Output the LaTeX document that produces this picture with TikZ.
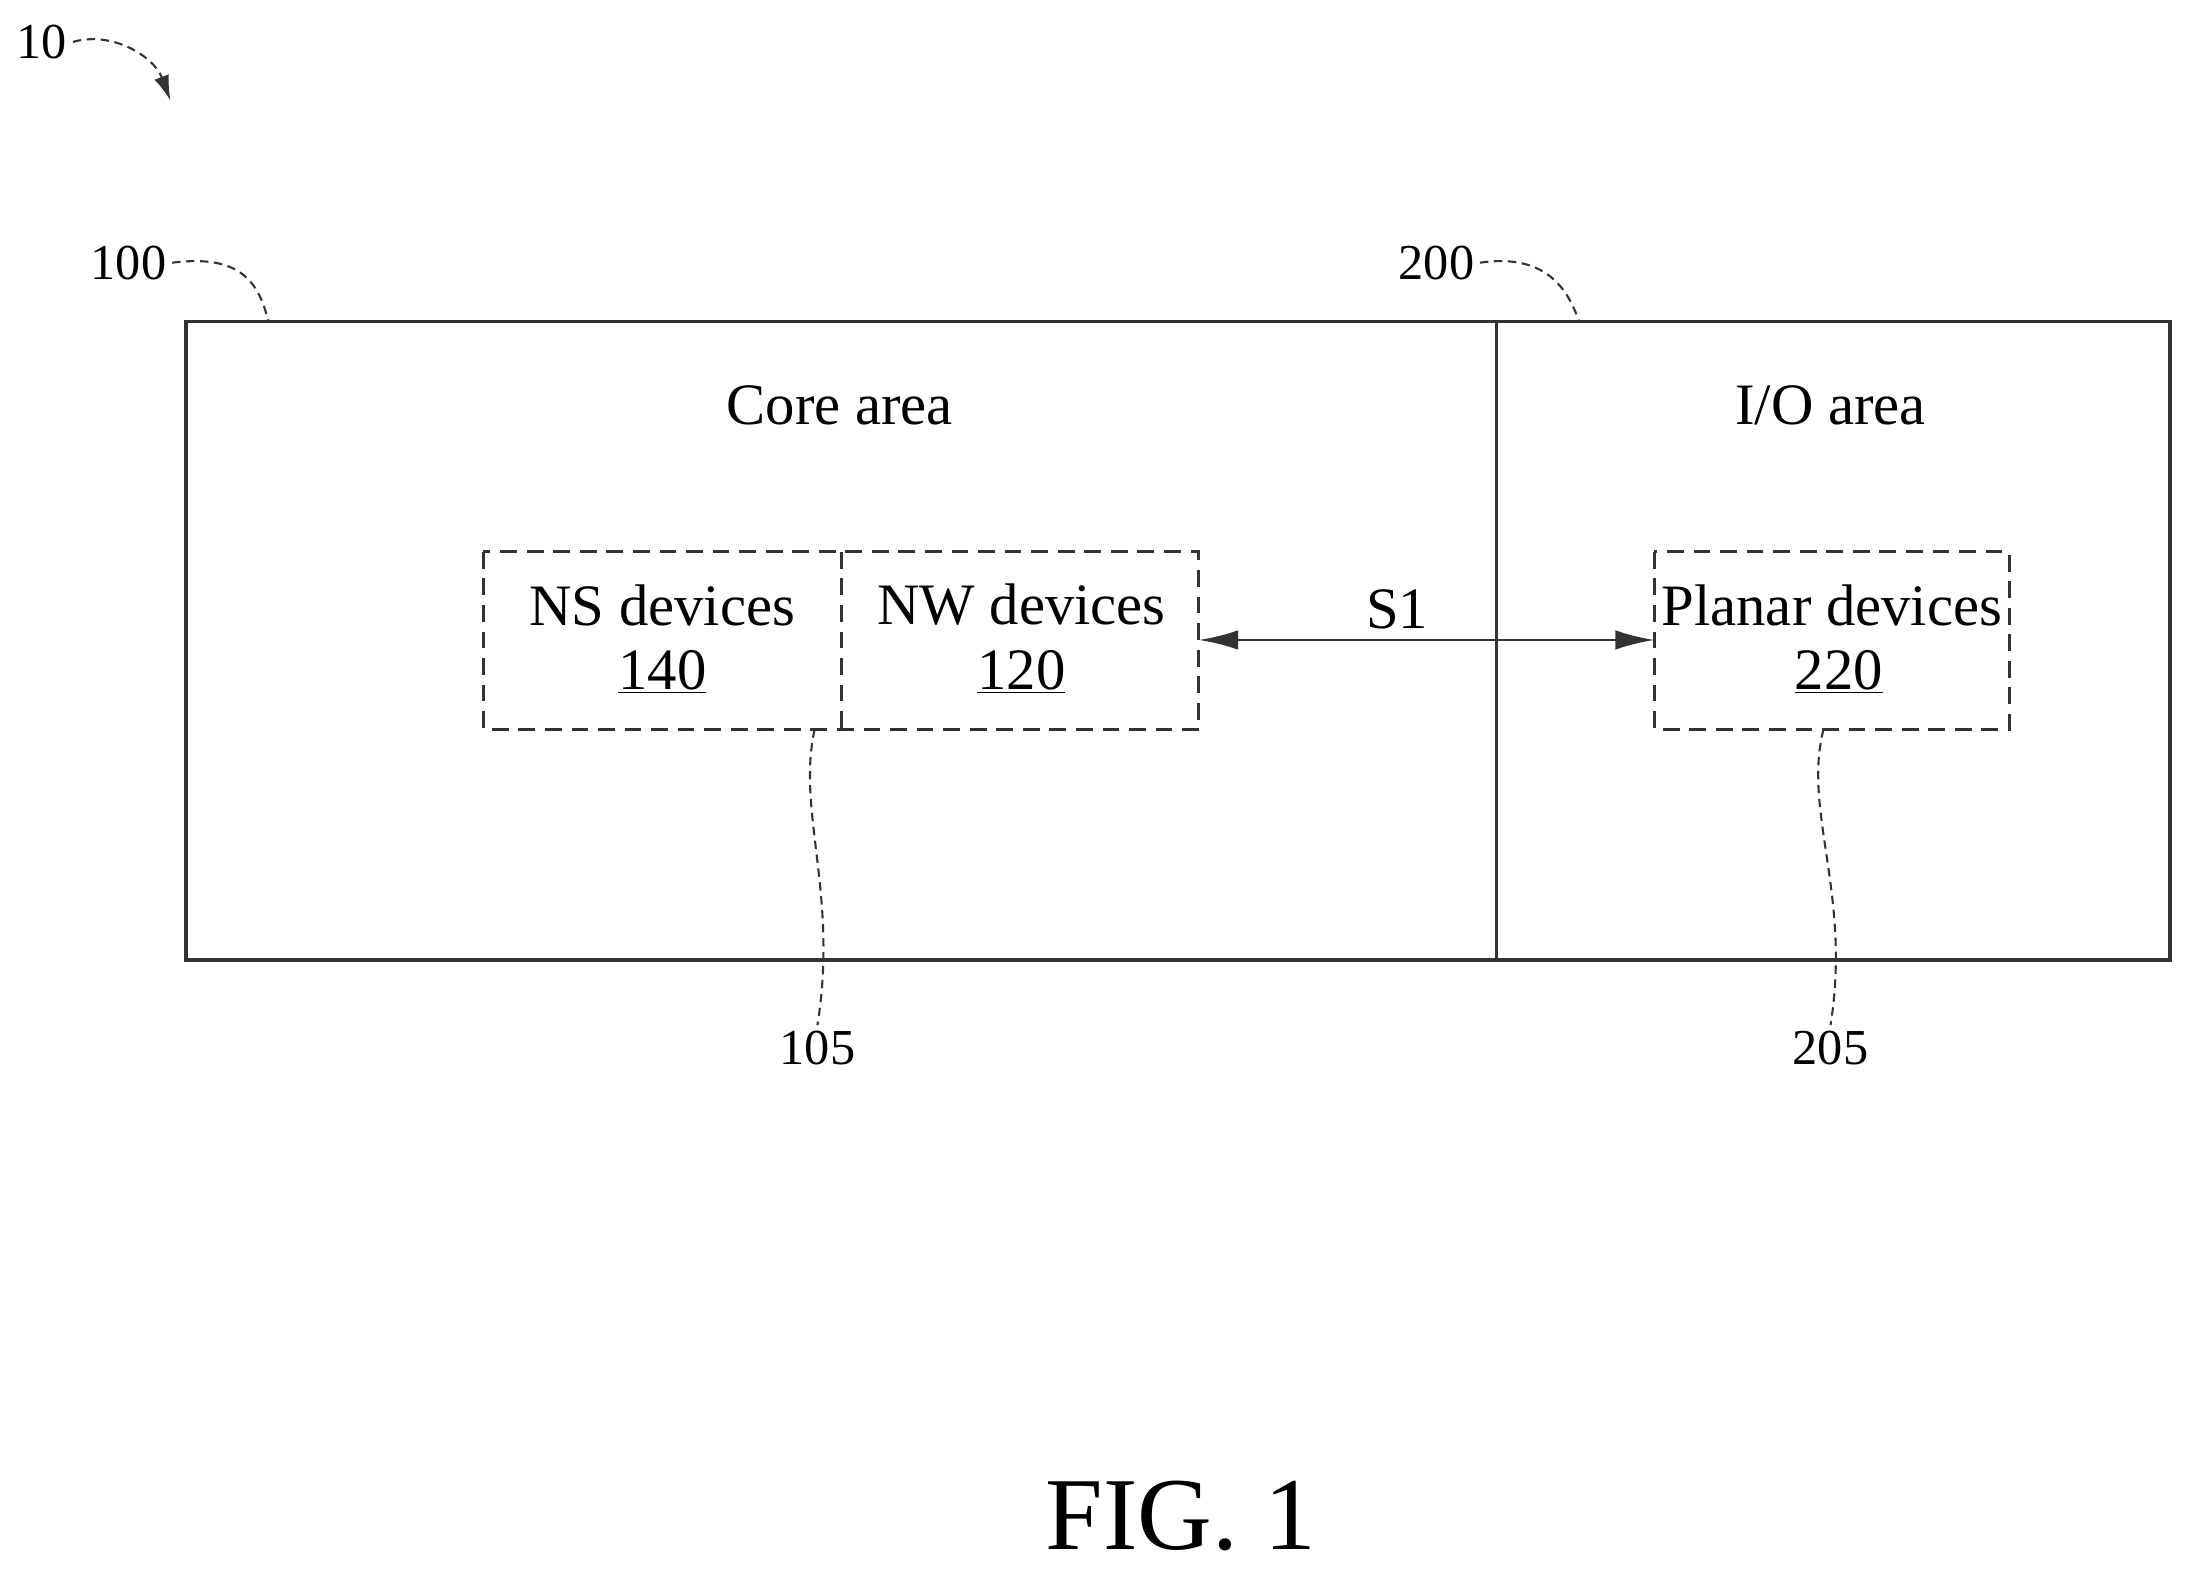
\documentclass[tikz,border=0pt]{standalone}
\usepackage{fontspec}
\setmainfont{Liberation Serif}
\usetikzlibrary{arrows.meta}
\begin{document}
\begin{tikzpicture}[x=1pt,y=-1pt,
  ln/.style={draw=black!80,line width=2.5pt},
  dsh/.style={draw=black!80,line width=2.2pt,dash pattern=on 12pt off 7pt},
  lead/.style={draw=black!80,line width=1.5pt,dash pattern=on 6pt off 4pt},
  lbl/.style={font=\fontsize{42}{46}\selectfont,inner sep=0pt},
  num/.style={font=\fontsize{36}{40}\selectfont,inner sep=4pt}]
\useasboundingbox (0,0) rectangle (1568,1124);
\draw[ln] (133,230) rectangle (1553,687);
\draw[ln] (1071,230) -- (1071,687);
\draw[dsh] (346,395) rectangle (858,522);
\draw[dsh] (602,395) -- (602,522);
\draw[dsh] (1184,395) rectangle (1438,522);
\coordinate (a1) at (858,458); \coordinate (a2) at (1184,458);
\draw[ln,line width=2pt,{Latex[length=28pt,width=14pt]}-{Latex[length=28pt,width=14pt]}] (a1) -- (a2);
\node[lbl] (s1) at (1000,436) {S1};
\node[lbl] (core) at (601,290) {Core area};
\node[lbl] (io) at (1310,290) {I/O area};
\node[lbl] (ns) at (474,433) {NS devices};
\node[lbl] (n140) at (474,481) {\underline{140}};
\node[lbl] (nw) at (731,433) {NW devices};
\node[lbl] (n120) at (731,481) {\underline{120}};
\node[lbl] (pl) at (1311,433) {Planar devices};
\node[lbl] (n220) at (1316,481) {\underline{220}};
\node[num] (l105) at (585,750) {105};
\node[num] (l205) at (1310,750) {205};
\node[num] (l100) at (92,188) {100};
\node[num] (l200) at (1028,188) {200};
\node[num] (l10) at (30,30) {10};
\draw[lead] (583,522) .. controls (570,580) and (600,640) .. (l105.north);
\draw[lead] (1305,522) .. controls (1290,580) and (1325,640) .. (l205.north);
\draw[lead] (l100.east) .. controls (170,182) and (185,200) .. (192,230);
\draw[lead] (l200.east) .. controls (1100,182) and (1120,200) .. (1130,230);
\draw[lead,-{Latex[length=18pt,width=11pt]}] (l10.east) .. controls (80,22) and (110,40) .. (122,72);
\node[font=\fontsize{74}{82}\selectfont,inner sep=0pt] (fig) at (845,1085) {FIG. 1};
\end{tikzpicture}
\end{document}
